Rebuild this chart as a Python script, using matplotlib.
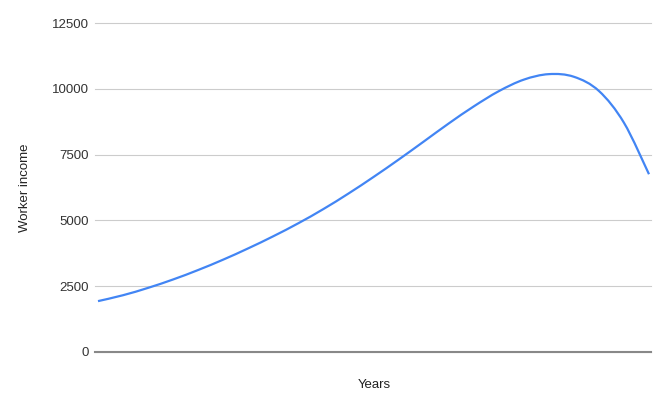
import matplotlib
matplotlib.use("Agg")
import matplotlib.pyplot as plt
from matplotlib.path import Path
from matplotlib.patches import PathPatch

# Data (x has no tick labels)
years = list(range(23))
income = [1925, 2150, 2430, 2750, 3110, 3505, 3935, 4395, 4890, 5430,
          6020, 6650, 7310, 7995, 8685, 9335, 9915, 10355, 10565, 10465,
          9925, 8715, 6755]
y_ticks = [0, 2500, 5000, 7500, 10000, 12500]

plt.rcParams['font.family'] = ['Liberation Sans', 'DejaVu Sans']

W, H = 666, 403
fig = plt.figure(figsize=(W / 100, H / 100), dpi=100)
left, right = 95, 651
top, bottom = 23.3, 351.7
ax = fig.add_axes([left / W, 1 - bottom / H, (right - left) / W, (bottom - top) / H])

# Smoothed line (like the "smooth" line option) as a Bezier path through the data
n = len(years)
verts = [(years[0], income[0])]
codes = [Path.MOVETO]
for i in range(n - 1):
    x0, y0 = years[max(i - 1, 0)], income[max(i - 1, 0)]
    x1, y1 = years[i], income[i]
    x2, y2 = years[i + 1], income[i + 1]
    x3, y3 = years[min(i + 2, n - 1)], income[min(i + 2, n - 1)]
    c1 = (x1 + (x2 - x0) / 6, y1 + (y2 - y0) / 6)
    c2 = (x2 - (x3 - x1) / 6, y2 - (y3 - y1) / 6)
    verts += [c1, c2, (x2, y2)]
    codes += [Path.CURVE4] * 3
ax.add_patch(PathPatch(Path(verts, codes), facecolor='none', edgecolor='#4285F4',
                       lw=1.6, capstyle='butt', joinstyle='round', zorder=3))

ax.set_ylim(0, 12500)
ax.set_xlim(-0.12, 22.08)
ax.set_yticks(y_ticks)
ax.set_yticklabels([str(t) for t in y_ticks])
ax.set_xticks([])
ax.grid(axis='y', color='#cccccc', lw=0.8, zorder=0)
for g in ax.get_ygridlines():
    g.set_clip_on(False)
ax.axhline(0, color='#888888', lw=1.5, zorder=2, clip_on=False)
for s in ax.spines.values():
    s.set_visible(False)
ax.tick_params(axis='y', length=0, pad=4.5, labelsize=9.5, labelcolor='#333333')

fig.text(25 / W, 1 - 188 / H, 'Worker income', rotation=90, ha='center',
         va='center', fontsize=9.5, color='#222222')
fig.text(374.5 / W, 1 - 384.5 / H, 'Years', ha='center', va='center',
         fontsize=9.5, color='#222222')

fig.savefig('out.png', dpi=100, facecolor='white')
